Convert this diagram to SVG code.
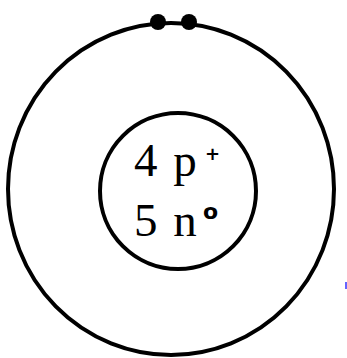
<svg xmlns="http://www.w3.org/2000/svg" width="347" height="358" viewBox="0 0 347 358">
<style>
.ring{fill:none;stroke:#000;stroke-width:4}
.e{fill:#000}
.t{font-family:"Liberation Serif","DejaVu Serif",serif;font-size:47px;fill:#000;letter-spacing:2px}
.s{font-family:"DejaVu Sans","Liberation Sans",sans-serif;font-weight:bold;fill:#000}
</style>
<rect width="347" height="358" fill="#fff"/>
<g id="shell">
<ellipse class="ring" cx="171" cy="189" rx="163" ry="166"/>
</g>
<g id="electrons">
<circle class="e" cx="158" cy="22" r="8"/>
<circle class="e" cx="189" cy="22" r="8"/>
</g>
<g id="nucleus">
<circle class="ring" cx="178" cy="191" r="78"/>
<text class="t" x="134" y="176">4 p</text>
<text class="s" x="205" y="160" font-size="18">+</text>
<text class="t" x="134" y="236">5 n</text>
<text class="s" x="203" y="219" font-size="22">o</text>
</g>
<line x1="346" y1="282" x2="346" y2="289" stroke="#3030ff" stroke-width="1.5"/>
</svg>
